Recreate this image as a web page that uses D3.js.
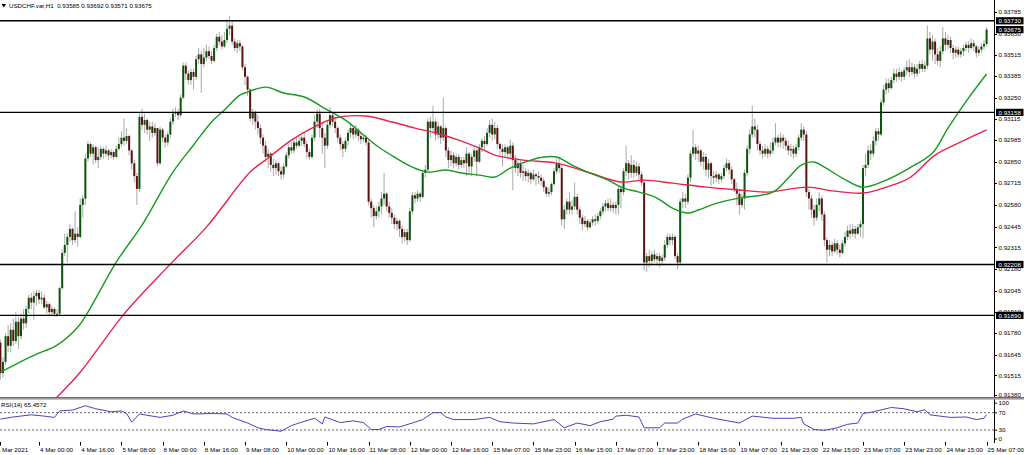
<!DOCTYPE html>
<html><head><meta charset="utf-8">
<script src="https://cdn.jsdelivr.net/npm/d3@7"></script>
<style>html,body{margin:0;padding:0;background:#fff;overflow:hidden}svg{display:block}text{font-family:"Liberation Sans",Arial,sans-serif;white-space:pre}</style>
</head><body>
<script>
// ---- data (prices in units of 0.0001) ----
const firstOpen = 9172;
const closes = [
9153,9160,9176,9170,9180,9173,9185,9176,9187,9184,
9193,9200,9197,9201,9203,9199,9200,9194,9196,9191,
9193,9190,9190,9206,9228,9233,9238,9243,9236,9240,
9238,9258,9262,9287,9296,9290,9294,9286,9288,9293,
9290,9292,9289,9291,9288,9293,9296,9300,9298,9301,
9292,9284,9276,9268,9313,9308,9311,9305,9307,9303,
9306,9284,9305,9300,9297,9302,9310,9315,9316,9314,
9325,9345,9340,9336,9341,9338,9349,9352,9346,9350,
9354,9351,9348,9356,9363,9360,9357,9361,9368,9370,
9360,9356,9359,9357,9344,9338,9330,9312,9316,9310,
9306,9300,9295,9288,9290,9283,9281,9284,9279,9277,
9282,9289,9294,9292,9297,9295,9298,9300,9296,9291,
9288,9300,9310,9315,9306,9300,9295,9308,9314,9310,
9306,9300,9296,9293,9298,9303,9306,9302,9305,9301,
9299,9300,9297,9260,9256,9251,9254,9257,9262,9265,
9257,9253,9250,9246,9248,9243,9238,9241,9236,9254,
9264,9262,9265,9263,9278,9280,9310,9306,9310,9302,
9307,9300,9306,9292,9286,9289,9284,9288,9283,9286,
9284,9290,9282,9288,9292,9285,9294,9298,9296,9303,
9308,9302,9306,9296,9293,9291,9294,9290,9295,9286,
9281,9284,9278,9279,9276,9278,9274,9277,9276,9275,
9273,9269,9265,9266,9271,9279,9284,9281,9249,9255,
9260,9255,9257,9263,9255,9250,9246,9248,9244,9247,
9249,9248,9251,9254,9257,9259,9256,9258,9256,9258,
9268,9266,9279,9284,9278,9283,9278,9282,9277,9272,
9222,9226,9223,9227,9224,9226,9223,9225,9233,9238,
9236,9238,9226,9222,9260,9262,9260,9275,9290,9294,
9290,9292,9285,9288,9280,9284,9276,9275,9277,9274,
9276,9281,9284,9280,9274,9268,9265,9258,9262,9278,
9293,9302,9307,9305,9296,9292,9290,9293,9290,9292,
9297,9300,9297,9300,9298,9295,9292,9293,9290,9294,
9300,9305,9302,9266,9262,9255,9250,9258,9262,9252,
9236,9230,9233,9229,9234,9230,9228,9234,9238,9242,
9240,9243,9240,9244,9246,9281,9283,9292,9290,9298,
9304,9302,9322,9330,9334,9331,9336,9340,9338,9341,
9338,9342,9344,9341,9344,9340,9343,9346,9343,9345,
9362,9355,9360,9352,9348,9354,9362,9358,9361,9356,
9353,9355,9352,9354,9356,9358,9356,9359,9357,9353,
9355,9357,9358.5,9367.5];
const highs = [
9174,9163,9178,9183,9184,9187,9191,9188,9190,9193,
9195,9202,9203,9204,9205,9205,9204,9202,9198,9197,
9195,9194,9193,9207,9230,9240,9240,9246,9244,9254,
9244,9262,9264,9290,9298,9297,9296,9295,9294,9295,
9294,9295,9293,9293,9292,9295,9300,9304,9312,9306,
9302,9293,9286,9278,9316,9318,9315,9312,9310,9310,
9309,9306,9307,9306,9302,9304,9312,9318,9319,9318,
9327,9347,9347,9342,9343,9343,9351,9356,9354,9356,
9358,9357,9354,9358,9365,9366,9364,9366,9374,9376,
9373,9362,9361,9361,9358,9346,9339,9331,9318,9317,
9314,9308,9302,9298,9293,9291,9287,9286,9285,9282,
9284,9291,9296,9297,9299,9300,9301,9302,9303,9298,
9293,9302,9314,9318,9318,9309,9303,9311,9319,9316,
9312,9307,9302,9298,9300,9305,9309,9307,9308,9306,
9304,9302,9302,9299,9262,9258,9257,9260,9266,9278,
9266,9260,9256,9252,9250,9249,9245,9243,9243,9256,
9266,9266,9267,9266,9280,9283,9312,9313,9320,9312,
9310,9308,9325,9307,9294,9292,9291,9290,9290,9288,
9288,9294,9291,9290,9294,9293,9296,9300,9301,9306,
9311,9312,9310,9308,9297,9296,9296,9295,9299,9297,
9289,9286,9286,9283,9281,9280,9279,9280,9278,9279,
9277,9275,9270,9269,9272,9281,9287,9288,9283,9258,
9262,9266,9261,9272,9265,9257,9252,9251,9249,9249,
9251,9252,9253,9256,9259,9261,9262,9262,9260,9260,
9270,9270,9281,9295,9286,9289,9286,9285,9284,9279,
9274,9228,9230,9229,9230,9228,9228,9227,9236,9240,
9240,9240,9239,9228,9262,9266,9265,9277,9292,9305,
9296,9295,9293,9291,9290,9287,9285,9279,9279,9278,
9278,9283,9287,9286,9282,9275,9272,9268,9265,9280,
9295,9305,9320,9312,9308,9298,9295,9296,9295,9297,
9300,9309,9302,9303,9302,9300,9298,9296,9295,9296,
9302,9309,9307,9304,9268,9264,9258,9262,9266,9264,
9254,9238,9236,9235,9237,9236,9233,9236,9241,9245,
9246,9246,9245,9246,9248,9283,9290,9295,9296,9301,
9306,9306,9324,9333,9337,9337,9338,9343,9343,9344,
9342,9344,9348,9349,9347,9346,9346,9348,9349,9348,
9370,9366,9364,9362,9356,9357,9369,9366,9364,9363,
9358,9357,9357,9356,9358,9360,9360,9362,9361,9358,
9357,9359,9361,9369.2];
const lows = [
9149,9150,9158,9166,9166,9170,9171,9168,9174,9180,
9181,9190,9193,9186,9195,9196,9196,9193,9190,9189,
9189,9188,9188,9189,9205,9226,9222,9235,9233,9234,
9232,9237,9250,9258,9285,9288,9283,9284,9281,9286,
9287,9288,9286,9287,9286,9287,9292,9294,9295,9296,
9289,9280,9272,9258,9266,9305,9303,9302,9298,9300,
9301,9282,9283,9297,9294,9295,9300,9308,9313,9311,
9313,9324,9336,9333,9333,9330,9336,9346,9328,9344,
9348,9349,9346,9347,9354,9358,9355,9356,9359,9364,
9358,9354,9353,9354,9342,9333,9326,9310,9308,9305,
9302,9296,9290,9285,9281,9279,9276,9277,9276,9274,
9275,9281,9287,9290,9290,9293,9294,9295,9294,9287,
9286,9287,9298,9306,9300,9290,9281,9293,9306,9307,
9303,9297,9292,9288,9291,9295,9300,9299,9300,9298,
9296,9297,9295,9258,9250,9244,9249,9250,9252,9258,
9254,9250,9246,9243,9242,9238,9234,9235,9233,9235,
9252,9259,9260,9260,9262,9275,9278,9300,9303,9298,
9299,9296,9298,9288,9281,9282,9281,9282,9280,9281,
9281,9276,9278,9276,9285,9276,9284,9291,9292,9295,
9300,9298,9299,9293,9289,9282,9288,9287,9288,9267,
9278,9276,9275,9273,9273,9272,9271,9273,9270,9271,
9270,9266,9263,9263,9264,9270,9277,9278,9245,9243,
9252,9252,9252,9255,9252,9246,9242,9244,9242,9243,
9245,9245,9246,9249,9252,9254,9254,9254,9253,9252,
9252,9256,9264,9276,9274,9275,9275,9276,9274,9270,
9217,9216,9219,9220,9222,9220,9219,9220,9223,9231,
9233,9233,9224,9218,9220,9256,9256,9258,9272,9288,
9286,9285,9282,9280,9276,9275,9270,9271,9272,9271,
9272,9274,9279,9277,9271,9266,9258,9252,9256,9255,
9276,9290,9300,9300,9292,9289,9287,9288,9287,9288,
9290,9295,9294,9294,9293,9292,9289,9288,9287,9288,
9292,9298,9298,9263,9255,9250,9245,9248,9254,9248,
9232,9222,9226,9226,9228,9227,9225,9227,9232,9236,
9237,9238,9237,9239,9238,9237,9276,9281,9286,9288,
9295,9298,9301,9320,9327,9328,9330,9334,9335,9336,
9335,9336,9339,9338,9339,9337,9338,9340,9341,9341,
9343,9352,9348,9346,9345,9344,9352,9354,9355,9353,
9349,9350,9350,9350,9351,9354,9353,9355,9354,9350,
9351,9353,9355,9357.1];

const maGreenIdx = [0,13,22,30,34,45,55,67,75,82,87,93,96,103,110,118,127,134,142,147,153,160,166,173,179,186,192,198,206,211,216,222,229,236,242,248,255,261,267,271,278,287,300,306,311,316,320,327,335,344,353,362,368,376,383];
const maGreenVal = [9153.5,9164,9170.4,9181.6,9191,9222.3,9245.4,9278.5,9295.4,9309.8,9317.3,9326.6,9328.5,9331.6,9327.9,9325.4,9317.3,9311,9300.4,9294,9287.9,9281.6,9278.5,9279.8,9277.9,9276.6,9275.4,9281,9286,9287.9,9287.9,9282.9,9277.9,9273.5,9268.5,9266,9262.3,9256,9252.9,9254.8,9259,9262.3,9266,9274.8,9282.9,9284.8,9281.6,9274.8,9269.1,9273.5,9281,9290.4,9306,9324.8,9339.8];
const maRedIdx = [15,22,31,48,66,80,97,104,113,121,130,142,152,161,169,178,186,192,203,216,229,241,250,261,274,287,298,313,324,335,344,353,363,373,383];
const maRedVal = [9127,9138,9153.5,9189.8,9221,9244.1,9278.5,9287.3,9298.5,9306,9312.3,9313.5,9309.8,9306,9302.9,9298.5,9293.5,9289.1,9286,9284.1,9277.9,9272.3,9273.5,9271.6,9269.1,9267.3,9266,9269.1,9266.6,9265.4,9269.1,9274.8,9289.1,9297.3,9304.8];

const rsiIdx = [0,5,12,17,21,23,28,33,37,43,47,49,51,54,62,67,71,75,83,88,90,96,100,103,109,113,116,122,125,126,132,137,141,144,147,150,155,160,164,168,171,173,176,184,190,194,199,207,215,219,224,229,233,238,239,243,248,250,256,258,263,265,270,277,287,292,300,308,311,312,316,320,325,329,333,335,339,346,351,356,359,361,369,375,379,382,383];
const rsiVal = [55,60,65,62,59,74,76,86,79,72,74,68,48,67,59,64,74,67,68,67,59,46,35,31,27,40,46,57,44,60,47,51,47,31,31,38,37,46,54,70,70,60,54,54,59,49,46,44,54,35,46,40,49,55,62,64,60,35,35,46,46,55,67,57,46,62,57,57,59,44,31,29,35,43,46,68,72,82,79,72,77,65,59,60,54,57,65.46];

const priceTicks = ["0.93785","0.93650","0.93515","0.93385","0.93250","0.93115","0.92985","0.92850","0.92715","0.92580","0.92445","0.92315","0.92180","0.92045","0.91910","0.91780","0.91645","0.91515","0.91380"];
const levels = ["0.93730","0.93158","0.92208","0.91890"];
const currentPrice = "0.93675";
const rsiTicks = [100,70,30,0];
const rsiLevels = [70,30];
const timeIdx = [0,15,31,47,63,79,95,111,127,143,159,175,191,207,223,239,255,271,287,303,319,335,351,367,383];
const timeLabels = ["3 Mar 2021","4 Mar 00:00","4 Mar 16:00","5 Mar 08:00","8 Mar 00:00","8 Mar 16:00","9 Mar 08:00","10 Mar 00:00","10 Mar 16:00","11 Mar 08:00","12 Mar 00:00","12 Mar 16:00","15 Mar 07:00","15 Mar 23:00","16 Mar 15:00","17 Mar 07:00","17 Mar 23:00","18 Mar 15:00","19 Mar 07:00","21 Mar 23:00","22 Mar 15:00","23 Mar 07:00","23 Mar 23:00","24 Mar 15:00","25 Mar 07:00"];
const headerText = "USDCHF.var,H1  0.93585 0.93692 0.93571 0.93675";
const rsiText = "RSI(14) 65.4572";

// ---- drawing ----
const W = 1024, H = 455, AX = 994, FS = 6.2;
const svg = d3.select("body").append("svg").attr("width", W).attr("height", H);
const x = d3.scaleLinear().domain([0, 383]).range([0.4, 986.6]);
const y = d3.scaleLinear().domain([0.91380, 0.93785]).range([397, 12]);
const yp = v => y(v / 10000);
const yr = d3.scaleLinear().domain([0, 100]).range([442.9, 399.7]);

const defs = svg.append("defs");
defs.append("clipPath").attr("id", "cm").append("rect").attr("x", 0).attr("y", 0).attr("width", AX).attr("height", 397);
defs.append("clipPath").attr("id", "cr").append("rect").attr("x", 0).attr("y", 399.5).attr("width", AX).attr("height", 44);

const main = svg.append("g").attr("clip-path", "url(#cm)");

// candles
const bars = closes.map((c, i) => ({ i, o: i === 0 ? firstOpen : closes[i - 1], c, h: highs[i], l: lows[i] }));
bars.forEach(b => { b.h = Math.max(b.h, b.o, b.c); b.l = Math.min(b.l, b.o, b.c); });
const cg = main.append("g");
cg.selectAll("line.w").data(bars).join("line").attr("class", "w")
  .attr("x1", d => x(d.i)).attr("x2", d => x(d.i))
  .attr("y1", d => yp(d.h)).attr("y2", d => yp(d.l))
  .attr("stroke", "#a9a9a9").attr("stroke-width", 1);
cg.selectAll("rect.b").data(bars).join("rect").attr("class", "b")
  .attr("x", d => x(d.i) - 1).attr("width", 2)
  .attr("y", d => Math.min(yp(d.o), yp(d.c)))
  .attr("height", d => Math.max(1, Math.abs(yp(d.o) - yp(d.c))))
  .attr("fill", d => d.c >= d.o ? "#0b540b" : "#5a1212");

// moving averages
const lineGen = d3.line().x(d => x(d[0])).y(d => yp(d[1])).curve(d3.curveCatmullRom.alpha(0.5));
main.append("path").datum(maRedIdx.map((v, k) => [v, maRedVal[k]]))
  .attr("d", lineGen).attr("fill", "none").attr("stroke", "#e8234a").attr("stroke-width", 1.4);
main.append("path").datum(maGreenIdx.map((v, k) => [v, maGreenVal[k]]))
  .attr("d", lineGen).attr("fill", "none").attr("stroke", "#179a1f").attr("stroke-width", 1.4);

// horizontal levels
main.selectAll("line.lv").data(levels).join("line").attr("class", "lv")
  .attr("x1", 0).attr("x2", AX).attr("y1", d => y(+d)).attr("y2", d => y(+d))
  .attr("stroke", "#000").attr("stroke-width", 1.4);

// header
svg.append("path").attr("d", "M1.5,4 L6,4 L3.75,7.5 Z").attr("fill", "#000");
svg.append("text").attr("x", 9).attr("y", 8.3).attr("font-size", FS).attr("fill", "#000").text(headerText);

// right price axis
svg.append("line").attr("x1", AX + 0.5).attr("x2", AX + 0.5).attr("y1", 0).attr("y2", 443).attr("stroke", "#000").attr("stroke-width", 1);
const labY = d => Math.min(y(+d), 394.5);
const pa = svg.append("g");
pa.selectAll("line").data(priceTicks).join("line")
  .attr("x1", AX).attr("x2", AX + 3).attr("y1", d => Math.round(labY(d)) + 0.5).attr("y2", d => Math.round(labY(d)) + 0.5)
  .attr("stroke", "#000");
pa.selectAll("text").data(priceTicks).join("text")
  .attr("x", AX + 4.5).attr("y", d => labY(d) + 2.2).attr("font-size", FS).attr("fill", "#000").text(d => d);
const boxes = levels.concat([currentPrice]);
const bx = svg.append("g");
bx.selectAll("rect").data(boxes).join("rect")
  .attr("x", AX + 2).attr("width", 27.5).attr("y", d => y(+d) - 3.6).attr("height", 7.2).attr("fill", "#000");
bx.selectAll("text").data(boxes).join("text")
  .attr("x", AX + 4.5).attr("y", d => y(+d) + 2.2).attr("font-size", FS).attr("fill", "#fff").text(d => d);

// separator
svg.append("rect").attr("x", 0).attr("y", 397).attr("width", W).attr("height", 2.6).attr("fill", "#9a9a9a");
svg.append("line").attr("x1", 0).attr("x2", W).attr("y1", 397.5).attr("y2", 397.5).attr("stroke", "#6e6e6e").attr("stroke-width", 1);

// RSI panel
const rp = svg.append("g").attr("clip-path", "url(#cr)");
rp.selectAll("line.rl").data(rsiLevels).join("line").attr("class", "rl")
  .attr("x1", 0).attr("x2", AX).attr("y1", d => yr(d)).attr("y2", d => yr(d))
  .attr("stroke", "#555").attr("stroke-width", 0.9).attr("stroke-dasharray", "2,2");
rp.append("path").datum(rsiIdx.map((v, k) => [v, rsiVal[k]]))
  .attr("d", d3.line().x(d => x(d[0])).y(d => yr(d[1])))
  .attr("fill", "none").attr("stroke", "#4646b4").attr("stroke-width", 1);
svg.append("text").attr("x", 1).attr("y", 407).attr("font-size", FS).attr("fill", "#000").text(rsiText);
const rsiLabY = { 100: 403.2, 70: 412.8, 30: 430.2, 0: 439 };
svg.selectAll("text.rt").data(rsiTicks).join("text").attr("class", "rt")
  .attr("x", AX + 4.5).attr("y", d => rsiLabY[d] + 2.2).attr("font-size", FS).attr("fill", "#000").text(d => d);
svg.selectAll("line.rtk").data(rsiTicks).join("line").attr("class", "rtk")
  .attr("x1", AX).attr("x2", AX + 3).attr("y1", d => rsiLabY[d]).attr("y2", d => rsiLabY[d]).attr("stroke", "#000");

// time axis
const ta = svg.append("g");
ta.selectAll("line").data(timeIdx).join("line")
  .attr("x1", d => Math.round(x(d)) + 0.5).attr("x2", d => Math.round(x(d)) + 0.5)
  .attr("y1", 442).attr("y2", 445.5).attr("stroke", "#000");
ta.selectAll("text").data(timeIdx).join("text")
  .attr("x", (d, k) => k === 0 ? x(d) - 3.6 : x(d) + 1).attr("y", 451.5)
  .attr("font-size", FS).attr("fill", "#000").text((d, k) => timeLabels[k]);
</script>
</body></html>
